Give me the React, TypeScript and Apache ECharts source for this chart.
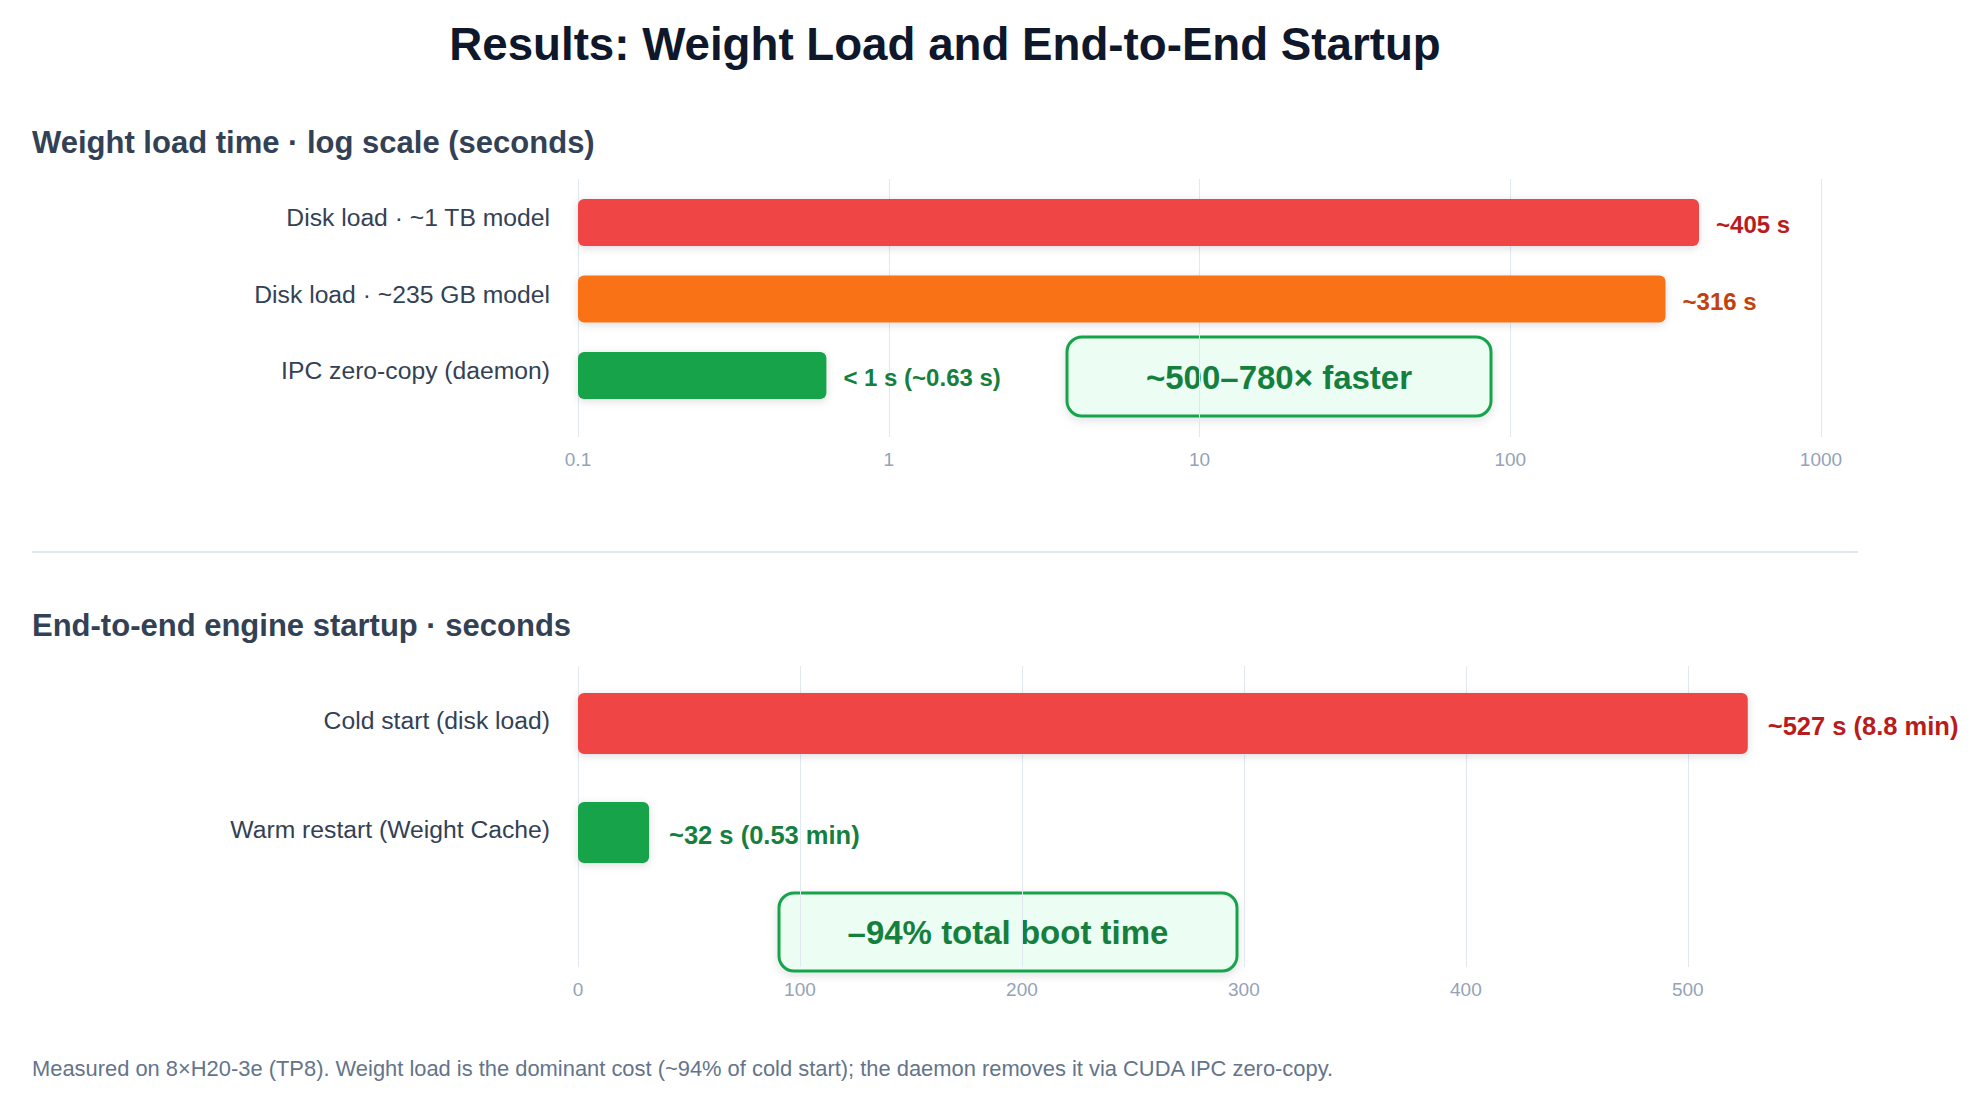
import React, { useEffect, useRef } from "react";
import * as echarts from "echarts";

// ---- data ----
const TITLE = "Results: Weight Load and End-to-End Startup";
const TOP_HEADING = "Weight load time · log scale (seconds)";
const BOTTOM_HEADING = "End-to-end engine startup · seconds";
const FOOTER =
  "Measured on 8×H20-3e (TP8). Weight load is the dominant cost (~94% of cold start); the daemon removes it via CUDA IPC zero-copy.";

const TOP_CATEGORIES = ["Disk load · ~1 TB model", "Disk load · ~235 GB model", "IPC zero-copy (daemon)"];
const TOP_VALUES = [405, 316, 0.63];
const TOP_VALUE_LABELS = ["~405 s", "~316 s", "< 1 s (~0.63 s)"];
const TOP_TICK_LABELS = ["0.1", "1", "10", "100", "1000"];
const TOP_AXIS_MIN = 0.1; // log axis starts at 0.1, one decade per tick
const TOP_CALLOUT = "~500–780× faster";

const BOTTOM_CATEGORIES = ["Cold start (disk load)", "Warm restart (Weight Cache)"];
const BOTTOM_VALUES = [527, 32];
const BOTTOM_VALUE_LABELS = ["~527 s (8.8 min)", "~32 s (0.53 min)"];
const BOTTOM_AXIS_MIN = 0;
const BOTTOM_AXIS_MAX = 560;
const BOTTOM_AXIS_INTERVAL = 100;
const BOTTOM_CALLOUT = "–94% total boot time";

// ---- styles ----
const FONT = "'Liberation Sans', Arial, Helvetica, sans-serif";
const TOP_COLORS = ["#ef4444", "#f97316", "#16a34a"];
const TOP_LABEL_COLORS = ["#b91c1c", "#c2410c", "#15803d"];
const BOTTOM_COLORS = ["#ef4444", "#16a34a"];
const BOTTOM_LABEL_COLORS = ["#b91c1c", "#15803d"];
const GRID_LINE = "#e2e8f0";
const TICK_COLOR = "#94a3b8";
const CAT_COLOR = "#334155";

const GRID_LEFT = 578;
const GRID_WIDTH = 1243;

// decades above the log-axis minimum (position on a log10 scale)
const toDecades = (v: number) => Math.log10(v / TOP_AXIS_MIN);
const TOP_DECADES = TOP_TICK_LABELS.length - 1;

function barItems(values: number[], colors: string[], labelColors: string[], labels: string[]) {
  return values.map((v, i) => ({
    value: v,
    itemStyle: { color: colors[i] },
    label: { color: labelColors[i], formatter: () => labels[i] },
  }));
}

export default function App() {
  const ref = useRef<HTMLDivElement>(null);

  useEffect(() => {
    if (!ref.current) return;
    const chart = echarts.init(ref.current, undefined, { renderer: "svg" });

    const hiddenValueY = { type: "value", show: false };
    const barStyle = {
      borderRadius: 6,
      shadowBlur: 8,
      shadowOffsetY: 2,
      shadowColor: "rgba(15,23,42,0.14)",
    };

    const option: any = {
      animation: false,
      backgroundColor: "#ffffff",
      textStyle: { fontFamily: FONT },
      grid: [
        { left: GRID_LEFT, width: GRID_WIDTH, top: 179, height: 258 },
        { left: GRID_LEFT, width: GRID_WIDTH, top: 184.25, height: 229.5 },
        { left: GRID_LEFT, width: GRID_WIDTH, top: 666, height: 301 },
        { left: GRID_LEFT, width: GRID_WIDTH, top: 669, height: 218 },
      ],
      xAxis: [
        {
          gridIndex: 0,
          type: "value",
          min: 0,
          max: TOP_DECADES,
          interval: 1,
          axisLine: { show: false },
          axisTick: { show: false },
          splitLine: { show: true, lineStyle: { color: GRID_LINE, width: 1 } },
          axisLabel: {
            color: TICK_COLOR,
            fontSize: 19,
            margin: 13,
            fontFamily: FONT,
            formatter: (v: number) => TOP_TICK_LABELS[Math.round(v)] ?? "",
          },
        },
        { gridIndex: 1, type: "value", min: 0, max: TOP_DECADES, interval: 1, show: false },
        {
          gridIndex: 2,
          type: "value",
          min: BOTTOM_AXIS_MIN,
          max: BOTTOM_AXIS_MAX,
          interval: BOTTOM_AXIS_INTERVAL,
          axisLine: { show: false },
          axisTick: { show: false },
          splitLine: { show: true, showMaxLine: false, lineStyle: { color: GRID_LINE, width: 1 } },
          axisLabel: { color: TICK_COLOR, fontSize: 19, margin: 13, showMaxLabel: false, fontFamily: FONT },
        },
        {
          gridIndex: 3,
          type: "value",
          min: BOTTOM_AXIS_MIN,
          max: BOTTOM_AXIS_MAX,
          interval: BOTTOM_AXIS_INTERVAL,
          show: false,
        },
      ],
      yAxis: [
        { ...hiddenValueY, gridIndex: 0 },
        {
          gridIndex: 1,
          type: "category",
          inverse: true,
          data: TOP_CATEGORIES,
          axisLine: { show: false },
          axisTick: { show: false },
          splitLine: { show: false },
          axisLabel: {
            color: CAT_COLOR,
            fontSize: 24.7,
            margin: 28,
            fontFamily: FONT,
            verticalAlign: "bottom",
            lineHeight: 10,
          },
        },
        { ...hiddenValueY, gridIndex: 2 },
        {
          gridIndex: 3,
          type: "category",
          inverse: true,
          data: BOTTOM_CATEGORIES,
          axisLine: { show: false },
          axisTick: { show: false },
          splitLine: { show: false },
          axisLabel: {
            color: CAT_COLOR,
            fontSize: 24.7,
            margin: 28,
            fontFamily: FONT,
            verticalAlign: "bottom",
            lineHeight: 6,
          },
        },
      ],
      series: [
        {
          type: "bar",
          xAxisIndex: 1,
          yAxisIndex: 1,
          barWidth: 47,
          itemStyle: barStyle,
          label: {
            show: true,
            position: "right",
            distance: 17,
            fontSize: 24,
            fontWeight: "bold",
            fontFamily: FONT,
            offset: [0, 2],
          },
          data: barItems(TOP_VALUES.map(toDecades), TOP_COLORS, TOP_LABEL_COLORS, TOP_VALUE_LABELS),
        },
        {
          type: "bar",
          xAxisIndex: 3,
          yAxisIndex: 3,
          barWidth: 61,
          itemStyle: barStyle,
          label: {
            show: true,
            position: "right",
            distance: 20,
            fontSize: 25.5,
            fontWeight: "bold",
            fontFamily: FONT,
            offset: [0, 2],
          },
          data: barItems(BOTTOM_VALUES, BOTTOM_COLORS, BOTTOM_LABEL_COLORS, BOTTOM_VALUE_LABELS),
        },
      ],
      graphic: [
        {
          type: "text",
          x: 945,
          y: 44,
          style: {
            text: TITLE,
            fontSize: 45.7,
            fontWeight: "bold",
            fontFamily: FONT,
            fill: "#0f172a",
            textAlign: "center",
            textVerticalAlign: "middle",
          },
        },
        {
          type: "text",
          x: 32,
          y: 142.5,
          style: {
            text: TOP_HEADING,
            fontSize: 31,
            fontWeight: "bold",
            fontFamily: FONT,
            fill: "#334155",
            textAlign: "left",
            textVerticalAlign: "middle",
          },
        },
        {
          type: "line",
          shape: { x1: 32, y1: 552, x2: 1858, y2: 552 },
          style: { stroke: "#e2e8f0", lineWidth: 2 },
        },
        {
          type: "text",
          x: 32,
          y: 625.5,
          style: {
            text: BOTTOM_HEADING,
            fontSize: 31,
            fontWeight: "bold",
            fontFamily: FONT,
            fill: "#334155",
            textAlign: "left",
            textVerticalAlign: "middle",
          },
        },
        {
          type: "group",
          x: 1067,
          y: 337,
          children: [
            {
              type: "rect",
              shape: { x: 0, y: 0, width: 424, height: 79, r: 15 },
              style: {
                fill: "#ecfdf3",
                stroke: "#16a34a",
                lineWidth: 3,
                shadowBlur: 10,
                shadowOffsetY: 3,
                shadowColor: "rgba(15,23,42,0.12)",
              },
            },
            {
              type: "text",
              x: 212,
              y: 40,
              style: {
                text: TOP_CALLOUT,
                fontSize: 33,
                fontWeight: "bold",
                fontFamily: FONT,
                fill: "#15803d",
                textAlign: "center",
                textVerticalAlign: "middle",
              },
            },
          ],
        },
        {
          type: "group",
          x: 779,
          y: 893,
          children: [
            {
              type: "rect",
              shape: { x: 0, y: 0, width: 458, height: 78, r: 15 },
              style: {
                fill: "#ecfdf3",
                stroke: "#16a34a",
                lineWidth: 3,
                shadowBlur: 10,
                shadowOffsetY: 3,
                shadowColor: "rgba(15,23,42,0.12)",
              },
            },
            {
              type: "text",
              x: 229,
              y: 39,
              style: {
                text: BOTTOM_CALLOUT,
                fontSize: 33,
                fontWeight: "bold",
                fontFamily: FONT,
                fill: "#15803d",
                textAlign: "center",
                textVerticalAlign: "middle",
              },
            },
          ],
        },
        {
          type: "text",
          x: 32,
          y: 1068.5,
          style: {
            text: FOOTER,
            fontSize: 21.9,
            fontFamily: FONT,
            fill: "#64748b",
            textAlign: "left",
            textVerticalAlign: "middle",
          },
        },
      ],
    };

    chart.setOption(option);
    return () => chart.dispose();
  }, []);

  return (
    <div
      ref={ref}
      style={{ position: "fixed", left: 0, top: 0, width: 1976, height: 1094, background: "#fff" }}
    />
  );
}
